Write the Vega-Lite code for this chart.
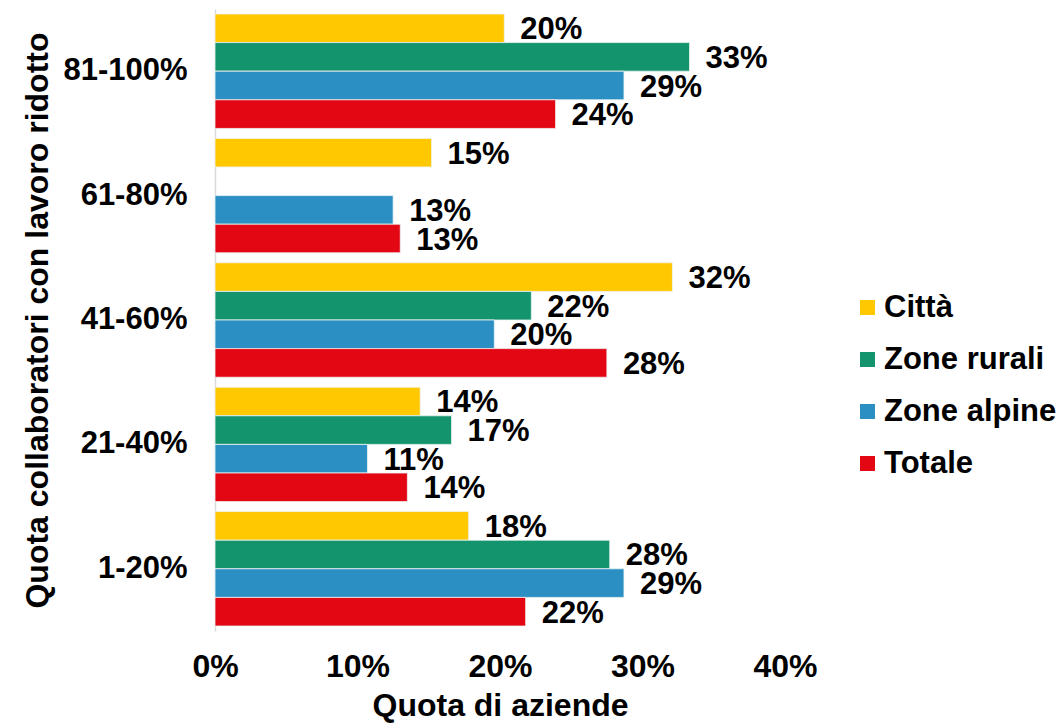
{
  "$schema": "https://vega.github.io/schema/vega-lite/v6.json",
  "autosize": "none",
  "width": 570,
  "height": 622,
  "padding": {"left": 215, "top": 9, "right": 278, "bottom": 95},
  "background": "#ffffff",
  "config": {
    "view": {"stroke": null},
    "font": "Liberation Sans",
    "axis": {"labelFont": "Liberation Sans", "titleFont": "Liberation Sans", "labelFontWeight": "bold", "titleFontWeight": "bold", "labelColor": "#000000", "titleColor": "#000000"},
    "legend": {"labelFont": "Liberation Sans", "labelFontWeight": "bold", "labelColor": "#000000"}
  },
  "data": {
    "values": [
      {"gruppo": "81-100%", "serie": "Città", "quota": 0.203},
      {"gruppo": "81-100%", "serie": "Zone rurali", "quota": 0.333},
      {"gruppo": "81-100%", "serie": "Zone alpine", "quota": 0.287},
      {"gruppo": "81-100%", "serie": "Totale", "quota": 0.239},
      {"gruppo": "61-80%", "serie": "Città", "quota": 0.152},
      {"gruppo": "61-80%", "serie": "Zone alpine", "quota": 0.125},
      {"gruppo": "61-80%", "serie": "Totale", "quota": 0.130},
      {"gruppo": "41-60%", "serie": "Città", "quota": 0.321},
      {"gruppo": "41-60%", "serie": "Zone rurali", "quota": 0.222},
      {"gruppo": "41-60%", "serie": "Zone alpine", "quota": 0.196},
      {"gruppo": "41-60%", "serie": "Totale", "quota": 0.275},
      {"gruppo": "21-40%", "serie": "Città", "quota": 0.144},
      {"gruppo": "21-40%", "serie": "Zone rurali", "quota": 0.166},
      {"gruppo": "21-40%", "serie": "Zone alpine", "quota": 0.107},
      {"gruppo": "21-40%", "serie": "Totale", "quota": 0.135},
      {"gruppo": "1-20%", "serie": "Città", "quota": 0.178},
      {"gruppo": "1-20%", "serie": "Zone rurali", "quota": 0.277},
      {"gruppo": "1-20%", "serie": "Zone alpine", "quota": 0.287},
      {"gruppo": "1-20%", "serie": "Totale", "quota": 0.218}
    ]
  },
  "encoding": {
    "y": {
      "field": "gruppo", "type": "nominal",
      "sort": ["81-100%", "61-80%", "41-60%", "21-40%", "1-20%"],
      "scale": {"paddingInner": 0.08, "paddingOuter": 0.04},
      "axis": {
        "title": "Quota collaboratori con lavoro ridotto",
        "titleFontSize": 32, "titlePadding": 8,
        "labelFontSize": 31, "labelPadding": 28, "labelLimit": 0,
        "ticks": false, "domain": true, "domainColor": "#d9d9d9", "domainWidth": 1.5
      }
    },
    "yOffset": {
      "field": "serie", "type": "nominal",
      "sort": ["Città", "Zone rurali", "Zone alpine", "Totale"],
      "scale": {"paddingInner": 0, "paddingOuter": 0}
    },
    "x": {
      "field": "quota", "type": "quantitative",
      "scale": {"domain": [0, 0.4], "nice": false},
      "axis": {
        "title": "Quota di aziende", "titleFontSize": 32, "titlePadding": 8,
        "format": ".0%", "values": [0, 0.1, 0.2, 0.3, 0.4],
        "labelFontSize": 32, "labelPadding": 20, "labelFlush": false,
        "ticks": false, "domain": false, "grid": false
      }
    }
  },
  "layer": [
    {
      "mark": {"type": "bar", "stroke": "#eef4f4", "strokeWidth": 0.8},
      "encoding": {
        "color": {
          "field": "serie", "type": "nominal",
          "scale": {"domain": ["Città", "Zone rurali", "Zone alpine", "Totale"], "range": ["#FFC800", "#14946C", "#2B8FC4", "#E30613"]},
          "legend": {
            "title": null, "orient": "none", "legendX": 637, "legendY": 283,
            "symbolType": "square", "symbolSize": 225, "symbolStrokeWidth": 0,
            "labelFontSize": 31, "rowPadding": 20, "labelOffset": 1, "labelLimit": 0
          }
        }
      }
    },
    {
      "mark": {"type": "text", "align": "left", "baseline": "middle", "dx": 16, "dy": 2, "fontSize": 31, "fontWeight": "bold", "color": "#000000"},
      "encoding": {
        "text": {"field": "quota", "type": "quantitative", "format": ".0%"}
      }
    }
  ]
}
